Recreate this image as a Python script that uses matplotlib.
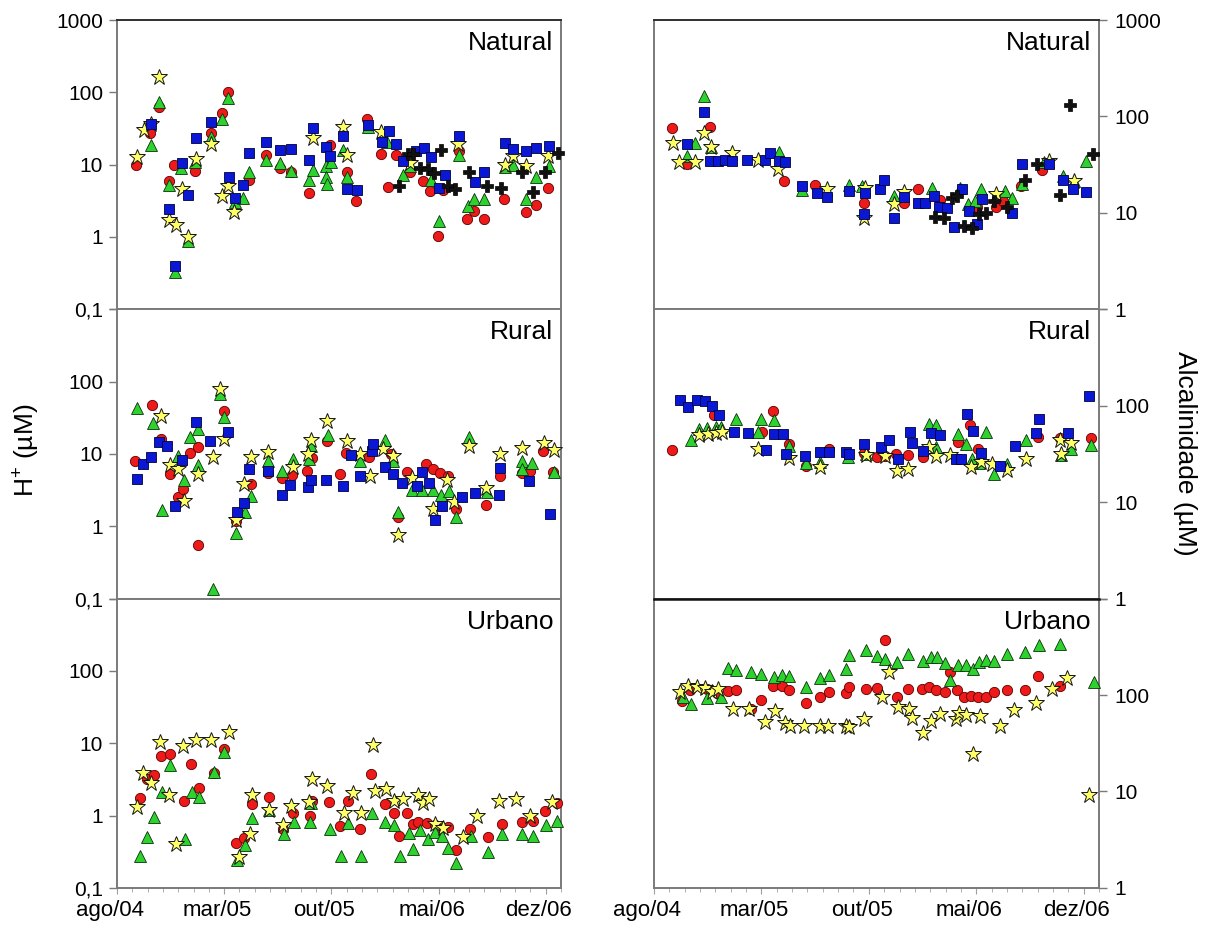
import matplotlib
matplotlib.use("Agg")
import matplotlib.pyplot as plt
from matplotlib.ticker import FixedLocator, MultipleLocator, NullLocator
from matplotlib.transforms import ScaledTranslation

plt.rcParams['font.family'] = ['Liberation Sans', 'DejaVu Sans']
plt.rcParams['mathtext.fontset'] = 'custom'
plt.rcParams['mathtext.rm'] = 'Liberation Sans'
plt.rcParams['mathtext.default'] = 'regular'

# tempo em meses contados a partir de ago/04, valores em uM
# ---- H+ ----
h_nat_circ = [(1.26, 9.9), (2.17, 27), (2.72, 62), (3.37, 6.0), (3.74, 10), (5.10, 8.3), (6.13, 27), (6.86, 51),
              (7.28, 100), (8.60, 6.2), (9.71, 13.6), (10.64, 8.9), (11.34, 7.8), (12.55, 4.0), (13.90, 18.7),
              (14.99, 7.8), (15.64, 3.1), (16.36, 43), (17.27, 14), (17.72, 4.9), (18.20, 13.5), (19.11, 7.8),
              (19.98, 5.9), (20.42, 4.3), (20.96, 1.04), (21.29, 4.4), (22.33, 15.3), (22.87, 1.8), (23.35, 2.3),
              (23.96, 1.8), (25.30, 3.3), (26.72, 2.2), (27.37, 2.8), (28.13, 4.75)]
h_nat_tri = [(2.22, 18.7), (2.74, 74), (3.37, 5.2), (3.82, 0.33), (4.21, 9.1), (4.67, 0.87), (5.10, 10.8),
             (6.13, 24), (6.86, 43), (7.28, 84), (7.71, 3.0), (8.25, 3.5), (8.60, 8.0), (9.71, 11.6), (10.64, 10.5),
             (11.34, 8.3), (12.55, 6.1), (12.81, 8.4), (13.68, 9.7), (13.62, 6.7), (13.73, 5.4), (13.97, 10.8),
             (14.77, 16.1), (14.99, 6.7), (16.40, 33), (17.64, 20.8), (18.68, 7.3), (19.11, 9.7), (20.48, 6.2),
             (21.0, 1.65), (22.33, 13.6), (22.92, 2.7), (23.35, 3.4), (24.0, 3.3), (25.37, 9.2), (25.85, 10),
             (26.72, 3.4), (27.37, 6.7), (28.19, 9.7)]
h_nat_est = [(1.30, 12.9), (1.74, 30.5), (2.24, 37), (2.72, 161), (3.37, 1.7), (3.84, 1.47), (4.24, 4.6),
             (4.67, 0.99), (5.15, 12), (6.13, 19), (6.89, 3.7), (7.28, 5.1), (7.67, 2.2), (12.77, 23), (14.77, 33),
             (15.03, 13.7), (17.27, 28), (19.11, 10.5), (22.26, 19), (25.37, 10), (25.85, 13.3), (26.72, 9.6),
             (28.13, 13.3)]
h_nat_quad = [(2.24, 36.5), (3.37, 2.4), (3.82, 0.40), (4.24, 10.4), (4.67, 3.8), (5.15, 23.4), (6.15, 38.5),
              (7.30, 6.7), (7.71, 3.5), (8.21, 5.2), (8.60, 14.4), (9.71, 20.4), (10.64, 16), (11.34, 16.5),
              (12.55, 11.7), (12.77, 32), (13.64, 17.7), (13.90, 13.3), (14.77, 24.7), (14.99, 4.6), (15.68, 4.4),
              (16.40, 35.7), (17.31, 20.8), (17.77, 29.5), (18.20, 19.3), (18.68, 11.3), (19.55, 15.6),
              (20.03, 16.9), (20.53, 12.6), (21.03, 4.7), (21.44, 7.3), (22.33, 25), (23.39, 5.8), (24.0, 8.0),
              (25.37, 19.7), (25.85, 16.2), (26.72, 15.6), (27.37, 16.9), (28.19, 18.3)]
h_nat_cruz = [(18.42, 5.0), (19.01, 14), (19.33, 14), (19.81, 8.9), (20.31, 8.7), (20.70, 7.6), (21.18, 16),
              (21.61, 5.1), (22.05, 4.6), (23.02, 8.0), (24.15, 5.0), (25.09, 4.8), (26.46, 7.8), (27.15, 4.2),
              (27.98, 8.0), (28.78, 14.4)]

h_rur_circ = [(1.20, 8.1), (2.28, 46.8), (2.87, 16.1), (3.46, 5.3), (4.0, 2.5), (4.33, 3.3), (4.78, 10.3),
              (5.26, 12.4), (5.26, 0.55), (6.96, 39), (7.76, 1.2), (8.74, 3.9), (9.83, 5.5), (10.76, 4.6),
              (11.46, 5.1), (12.43, 5.8), (12.76, 8.8), (13.74, 15), (14.54, 5.3), (14.93, 10.3), (16.46, 9.1),
              (17.91, 10), (18.37, 1.34), (18.91, 5.6), (20.15, 7.3), (20.63, 6.1), (21.09, 5.5), (21.63, 4.9),
              (22.11, 1.73), (24.11, 1.95), (25.04, 4.9), (26.46, 5.5), (27.0, 5.8), (27.83, 11.1), (28.48, 5.6)]
h_rur_tri = [(1.28, 43), (2.33, 26.9), (2.91, 1.66), (4.0, 9.3), (4.35, 4.3), (4.78, 17), (5.30, 22.2), (5.30, 7.0),
             (6.30, 0.135), (6.74, 68.5), (6.96, 32.6), (7.76, 0.80), (8.35, 1.6), (8.78, 2.6), (9.89, 8.1),
             (10.76, 5.75), (11.5, 8.5), (12.54, 8.5), (12.70, 12.8), (13.78, 18.5), (15.87, 7.9), (17.48, 15.8),
             (18.04, 8.0), (18.37, 1.6), (19.28, 3.2), (19.93, 3.2), (20.65, 3.2), (21.13, 2.7), (21.67, 3.1),
             (22.11, 1.34), (22.98, 17.2), (24.17, 3.0), (26.46, 7.9), (26.46, 6.2), (27.11, 7.5), (28.52, 5.6)]
h_rur_est = [(2.87, 34), (3.46, 7.0), (4.0, 6.1), (4.39, 2.25), (5.30, 5.2), (6.30, 9.1), (6.74, 79.6),
             (6.96, 16.1), (7.76, 1.23), (8.30, 3.9), (8.78, 9.1), (9.89, 10.7), (11.52, 6.7), (12.48, 10.1),
             (12.70, 15.8), (13.74, 28.4), (15.04, 15), (15.87, 10.1), (16.52, 5.0), (17.39, 11.7), (18.04, 9.3),
             (18.37, 0.76), (19.28, 4.6), (20.65, 1.73), (21.57, 4.4), (22.0, 2.2), (22.98, 12.8), (24.11, 3.4),
             (25.04, 10.1), (26.46, 11.9), (27.87, 14.2), (28.52, 11.5)]
h_rur_quad = [(1.28, 4.5), (1.67, 7.3), (2.22, 9.0), (2.72, 14.5), (3.26, 12.8), (3.78, 1.9), (4.24, 8.3),
              (5.15, 27.5), (6.09, 15.3), (7.22, 20), (7.87, 1.6), (8.30, 2.1), (8.63, 6.2), (9.83, 5.9),
              (10.8, 2.7), (11.3, 3.76), (12.48, 3.5), (12.70, 4.3), (13.67, 4.3), (14.78, 3.6), (15.30, 9.8),
              (15.87, 5.0), (16.67, 10.9), (16.74, 13.9), (17.5, 6.7), (18.04, 5.3), (18.63, 4.0), (19.61, 3.6),
              (19.89, 5.6), (20.37, 4.0), (20.76, 1.23), (21.24, 1.9), (22.54, 2.5), (23.41, 2.9), (24.93, 2.7),
              (25.0, 6.4), (26.89, 4.2), (28.3, 1.5)]

h_urb_circ = [(1.48, 1.77), (1.96, 3.25), (2.44, 3.6), (2.89, 6.7), (3.48, 7.2), (4.35, 1.6), (4.85, 5.1),
              (5.37, 2.44), (6.31, 3.9), (6.96, 8.3), (7.79, 0.42), (8.31, 0.49), (8.83, 1.44), (9.9, 1.8),
              (10.84, 0.66), (11.49, 1.07), (12.58, 0.98), (12.73, 1.6), (13.86, 1.55), (14.58, 0.71), (15.08, 1.6),
              (15.88, 0.66), (16.6, 3.8), (17.52, 1.44), (18.06, 1.07), (18.45, 0.52), (18.97, 1.07), (19.32, 0.76),
              (19.69, 0.82), (20.28, 0.79), (20.78, 0.74), (21.15, 0.65), (21.65, 0.7), (22.15, 0.33), (23.06, 0.65),
              (24.22, 0.5), (25.13, 0.77), (26.48, 0.82), (27.2, 0.85), (27.96, 1.16), (28.72, 1.5)]
h_urb_tri = [(1.52, 0.28), (1.96, 0.51), (2.44, 0.96), (2.94, 2.1), (3.48, 5.0), (4.42, 0.48), (4.9, 2.1),
             (5.37, 1.8), (6.31, 4.0), (7.0, 7.6), (7.83, 0.24), (8.38, 0.39), (8.83, 0.93), (9.94, 1.19),
             (10.88, 0.56), (11.53, 0.82), (12.58, 0.82), (12.69, 1.47), (13.88, 0.66), (14.62, 0.28), (15.12, 0.79),
             (15.93, 0.28), (16.64, 1.09), (17.52, 0.82), (18.06, 0.74), (18.49, 0.28), (19.04, 0.58), (19.36, 0.34),
             (19.8, 0.63), (20.34, 0.47), (20.78, 0.6), (21.21, 0.53), (21.65, 0.36), (22.15, 0.22), (23.11, 0.53),
             (24.2, 0.31), (25.13, 0.56), (26.48, 0.55), (27.2, 0.53), (28.0, 0.74), (28.72, 0.85)]
h_urb_est = [(1.31, 1.32), (1.7, 3.9), (2.22, 2.83), (2.79, 10.4), (3.37, 1.9), (3.85, 0.41), (4.29, 9.2),
             (5.18, 11), (6.16, 11), (7.29, 14.4), (7.94, 0.27), (8.7, 0.56), (8.83, 1.9), (9.9, 1.19),
             (10.84, 0.73), (11.36, 1.35), (12.51, 1.55), (12.73, 3.25), (13.71, 2.55), (14.84, 1.09), (15.4, 2.06),
             (15.93, 1.09), (16.71, 9.4), (16.86, 2.2), (17.58, 2.3), (18.06, 1.6), (18.71, 1.68), (19.69, 1.9),
             (19.97, 1.5), (20.41, 1.7), (20.78, 0.77), (21.32, 0.68), (22.63, 0.51), (23.5, 0.98), (24.98, 1.6),
             (26.07, 1.7), (26.98, 1.0), (28.39, 1.55)]

# ---- Alcalinidade ----
alc_nat_circ = [(1.15, 75.7), (2.18, 32.5), (3.66, 77), (8.49, 21.5), (10.51, 19.4), (13.66, 12.8), (16.27, 12.8),
                (17.19, 17.6), (18.62, 13.6), (21.06, 11.5), (22.26, 11.4), (22.76, 13.3), (23.93, 19),
                (25.26, 27.7)]
alc_nat_tri = [(2.18, 39), (2.68, 52.5), (3.26, 164), (3.70, 47.7), (8.12, 43), (9.64, 17.2), (12.68, 19.5),
               (13.56, 18.8), (15.62, 15), (18.12, 18.3), (19.97, 18.3), (20.47, 12.3), (20.95, 13.2),
               (21.28, 17.6), (22.85, 17), (23.3, 14.4), (24.0, 19.8), (25.41, 34), (26.68, 24.2), (27.37, 21.5),
               (28.13, 34.7)]
alc_nat_est = [(1.22, 52.5), (1.65, 33.3), (2.68, 34), (3.26, 66.6), (3.72, 47.7), (5.07, 41.6), (6.75, 35.5),
               (8.07, 28.4), (11.27, 17.6), (13.66, 8.95), (13.77, 18.3), (15.62, 12.3), (16.27, 16.6),
               (22.26, 15.6), (25.74, 34.7), (27.37, 21.5)]
alc_nat_quad = [(2.18, 51.6), (3.26, 112), (3.66, 34.7), (4.2, 34.7), (4.63, 35.5), (5.07, 34.7), (6.09, 35.5),
                (7.25, 35.5), (7.57, 41.3), (8.12, 34.7), (8.55, 34), (9.64, 19), (10.62, 16), (11.27, 14.7),
                (12.68, 16.9), (13.71, 9.8), (13.77, 16), (14.75, 17.6), (14.97, 21.8), (15.62, 8.8), (16.32, 14.7),
                (17.19, 12.8), (17.69, 12.8), (18.23, 15), (18.56, 11.4), (19.1, 11.2), (19.54, 7.2), (20.04, 17.6),
                (20.52, 10.5), (21.06, 7.6), (21.39, 13.9), (23.35, 10), (24.0, 32.5), (25.74, 32), (26.68, 21.8),
                (27.33, 17.6), (28.13, 16.3)]
alc_nat_cruz = [(18.34, 9.1), (18.89, 8.95), (19.43, 14.4), (19.76, 15), (20.19, 7.3), (20.74, 6.9), (21.17, 9.7),
                (21.61, 10), (22.15, 13.3), (23.02, 11.4), (24.17, 21.8), (24.98, 32), (26.46, 15.4), (27.11, 132),
                (28.63, 40.6)]

alc_rur_circ = [(1.2, 34.4), (3.92, 80), (7.07, 53.4), (7.77, 87.7), (8.81, 39.8), (9.9, 24), (11.42, 35.3),
                (13.71, 32.3), (14.51, 29.4), (15.08, 29.8), (15.77, 31.5), (16.54, 30.6), (17.52, 29.4),
                (19.8, 42), (20.6, 63.7), (21.1, 35.9), (25.02, 47.4), (26.44, 46), (28.5, 46.5)]
alc_rur_tri = [(2.39, 44.5), (2.94, 57.9), (3.48, 58.5), (4.03, 60.2), (4.35, 60), (5.33, 73.6), (6.75, 53.4),
               (7.0, 73.6), (7.79, 70.7), (8.81, 38.2), (9.9, 25.6), (10.81, 26), (12.62, 29.4), (13.82, 31.5),
               (17.95, 65.3), (18.39, 63.3), (18.39, 37.3), (19.8, 50.5), (20.3, 39.8), (20.71, 27.8),
               (21.21, 25.4), (21.65, 53.4), (22.15, 19.7), (23.02, 24.6), (24.22, 44.5), (26.54, 31), (27.2, 35.9),
               (28.5, 38.8)]
alc_rur_est = [(2.94, 49.4), (3.55, 50.5), (4.03, 51.8), (4.46, 53), (6.75, 35.9), (8.77, 28.9), (10.81, 23.1),
               (13.82, 30.6), (15.08, 30), (15.84, 20.8), (16.54, 22.2), (17.95, 37.3), (18.39, 30), (19.26, 30.6),
               (20.67, 23.1), (21.28, 25.9), (22.04, 24.9), (23.02, 21.3), (24.22, 27.8), (26.44, 44.5),
               (26.54, 31.5), (27.2, 41.1)]
alc_rur_quad = [(1.7, 116), (2.24, 97), (2.79, 116), (3.33, 111), (3.81, 98.8), (4.24, 81), (5.22, 53.4),
                (6.14, 52.6), (7.29, 34.4), (7.83, 51.4), (8.38, 51.4), (8.59, 31.8), (9.86, 30.1), (10.84, 33.1),
                (11.38, 33.1), (12.51, 33.1), (12.73, 31.8), (13.66, 39.8), (14.8, 37.3), (15.34, 44.5),
                (15.88, 27.8), (16.71, 53.4), (16.82, 41.1), (17.56, 33.9), (18.06, 52.6), (18.67, 49.4),
                (19.65, 28.2), (20.02, 28.2), (20.39, 83), (20.82, 54.7), (21.32, 32.3), (22.58, 24), (23.5, 37.9),
                (24.91, 52.2), (25.09, 72.4), (26.98, 52.2), (28.35, 126)]

alc_urb_circ = [(1.85, 87), (2.35, 113), (3.48, 115), (4.13, 104), (4.83, 111), (5.33, 113), (6.31, 71.5),
                (6.96, 88.7), (7.77, 125), (8.31, 125), (8.81, 113), (9.9, 82), (10.81, 96), (11.42, 107),
                (12.51, 104), (12.68, 120), (13.82, 115), (14.53, 118), (15.08, 368), (15.82, 94.5), (16.58, 115),
                (17.47, 115), (17.95, 120), (18.39, 113), (18.97, 107), (19.3, 175), (19.76, 113), (20.19, 96),
                (20.67, 98), (21.11, 96), (21.61, 96), (22.15, 107), (23.02, 113), (24.2, 113), (25.02, 159),
                (26.48, 123)]
alc_urb_tri = [(1.91, 94.5), (2.42, 80.6), (3.48, 93), (4.35, 94.5), (4.85, 190), (5.33, 182), (6.31, 172),
               (6.96, 166), (7.79, 153), (8.31, 163), (8.81, 159), (9.9, 122), (10.81, 150), (11.42, 163),
               (12.51, 187), (12.68, 261), (13.82, 294), (14.53, 257), (15.08, 239), (15.84, 219), (16.58, 267),
               (17.52, 228), (18.02, 247), (18.45, 250), (18.97, 215), (19.3, 143), (19.8, 207), (20.3, 207),
               (20.78, 184), (21.21, 219), (21.65, 231), (22.15, 228), (23.02, 267), (24.2, 278), (25.09, 332),
               (26.48, 340), (28.68, 138)]
alc_urb_est = [(1.7, 107), (2.24, 125), (2.83, 120), (3.33, 118), (3.81, 107), (4.2, 115), (5.16, 71.5),
               (6.16, 71.5), (7.25, 52), (7.88, 68.7), (8.53, 51), (8.88, 48), (9.79, 47.5), (10.81, 48),
               (11.31, 47.2), (12.51, 47.2), (12.73, 46.5), (13.66, 56), (14.84, 94.5), (15.3, 175), (15.88, 74.4),
               (16.64, 71.5), (16.82, 57.2), (17.52, 40.8), (18.02, 53.2), (18.67, 63.4), (19.65, 56), (19.87, 64.5),
               (20.34, 62), (20.82, 24.3), (21.26, 60), (22.52, 48), (23.46, 69.8), (24.87, 82), (25.96, 115),
               (26.94, 150), (28.33, 9.2)]

REGIOES = ['Natural', 'Rural', 'Urbano']
MESES = ['ago/04', 'mar/05', 'out/05', 'mai/06', 'dez/06']
MESES_POS = [0, 7, 14, 21, 28]
H_TICKS = [0.1, 1, 10, 100, 1000]
ALC_TICKS = [1, 10, 100, 1000]

# painel -> lista de (estilo, dados)
H_DADOS = [
    [('circ', h_nat_circ), ('tri', h_nat_tri), ('est', h_nat_est), ('quad', h_nat_quad), ('cruz', h_nat_cruz)],
    [('circ', h_rur_circ), ('tri', h_rur_tri), ('est', h_rur_est), ('quad', h_rur_quad)],
    [('circ', h_urb_circ), ('tri', h_urb_tri), ('est', h_urb_est)],
]
ALC_DADOS = [
    [('circ', alc_nat_circ), ('tri', alc_nat_tri), ('est', alc_nat_est), ('quad', alc_nat_quad),
     ('cruz', alc_nat_cruz)],
    [('circ', alc_rur_circ), ('tri', alc_rur_tri), ('est', alc_rur_est), ('quad', alc_rur_quad)],
    [('circ', alc_urb_circ), ('tri', alc_urb_tri), ('est', alc_urb_est)],
]

ESTILO = {
    'circ': dict(marker='o', ms=7.4, mfc='#ee1a1a', mec='#5a0000', mew=0.6, zorder=3),
    'tri': dict(marker='^', ms=8.6, mfc='#2ed22e', mec='#0b300b', mew=0.6, zorder=4),
    'est': dict(marker='*', ms=11.8, mfc='#ffff66', mec='#151515', mew=0.7, zorder=5),
    'quad': dict(marker='s', ms=7.2, mfc='#0a18d6', mec='#00003a', mew=0.6, zorder=6),
    'cruz': dict(marker='P', ms=8.6, mfc='#111111', mec='#000000', mew=0.5, zorder=7),
}

SPINE = '#7a7a7a'


def fmt_tick(v):
    return '0,1' if v < 1 else '%d' % v


def montar_eixo(ax, linha, coluna):
    ax.set_xlim(0, 29)
    ax.xaxis.set_major_locator(FixedLocator(MESES_POS))
    ax.xaxis.set_minor_locator(MultipleLocator(1))
    ax.set_yscale('log')
    ticks = H_TICKS if coluna == 0 else ALC_TICKS
    ax.set_ylim(ticks[0], ticks[-1])
    ax.yaxis.set_major_locator(FixedLocator(ticks))
    ax.yaxis.set_minor_locator(NullLocator())
    labels = [fmt_tick(v) for v in ticks]
    if linha > 0:
        labels[-1] = ''
    ax.set_yticklabels(labels)

    for s in ax.spines.values():
        s.set_color(SPINE)
        s.set_linewidth(1.4)
    if linha == 0:
        ax.spines['top'].set_color('#303030')
    if linha == 2 and coluna == 1:
        ax.spines['top'].set_color('#111111')
        ax.spines['top'].set_linewidth(1.8)

    ax.tick_params(axis='y', which='major', direction='out', length=6, width=1.0, color=SPINE,
                   labelsize=15, pad=4)
    if coluna == 1:
        ax.yaxis.tick_right()
        ax.tick_params(axis='y', which='major', direction='out', length=6, width=1.0, color=SPINE,
                       labelsize=15, pad=5)

    if linha == 2:
        ax.set_xticklabels(MESES)
        ax.tick_params(axis='x', which='major', direction='out', length=4, width=0.8, color='#a0a0a0',
                       labelsize=16, pad=5)
        ax.tick_params(axis='x', which='minor', direction='out', length=3, width=0.7, color='#b0b0b0')
        # rotulos das datas ficam um pouco a esquerda da marca
        desloc = ScaledTranslation(-0.07, 0, ax.figure.dpi_scale_trans)
        for lb in ax.get_xticklabels():
            lb.set_transform(lb.get_transform() + desloc)
    else:
        ax.tick_params(axis='x', which='both', bottom=False, labelbottom=False)

    ax.text(0.982, 0.962, REGIOES[linha], transform=ax.transAxes, ha='right', va='top', fontsize=19)


fig = plt.figure(figsize=(12.14, 9.32), dpi=100)
W, H = 1214.0, 932.0
altura = 289.3
colunas = [(117, 444), (654, 445)]

for coluna, dados_col in enumerate([H_DADOS, ALC_DADOS]):
    x0, largura = colunas[coluna]
    for linha in range(3):
        topo = 20 + linha * altura
        ax = fig.add_axes([x0 / W, 1 - (topo + altura) / H, largura / W, altura / H])
        for nome, pontos in dados_col[linha]:
            t = [p[0] for p in pontos]
            v = [p[1] for p in pontos]
            ax.plot(t, v, linestyle='none', clip_on=False, **ESTILO[nome])
        montar_eixo(ax, linha, coluna)

fig.text(27 / W, 1 - 450 / H, 'H$^{+}$ (µM)', rotation=90, ha='center', va='center', fontsize=19)
fig.text(1185 / W, 1 - 453 / H, 'Alcalinidade (µM)', rotation=270, ha='center', va='center', fontsize=19)

fig.savefig('out.png', dpi=100)
